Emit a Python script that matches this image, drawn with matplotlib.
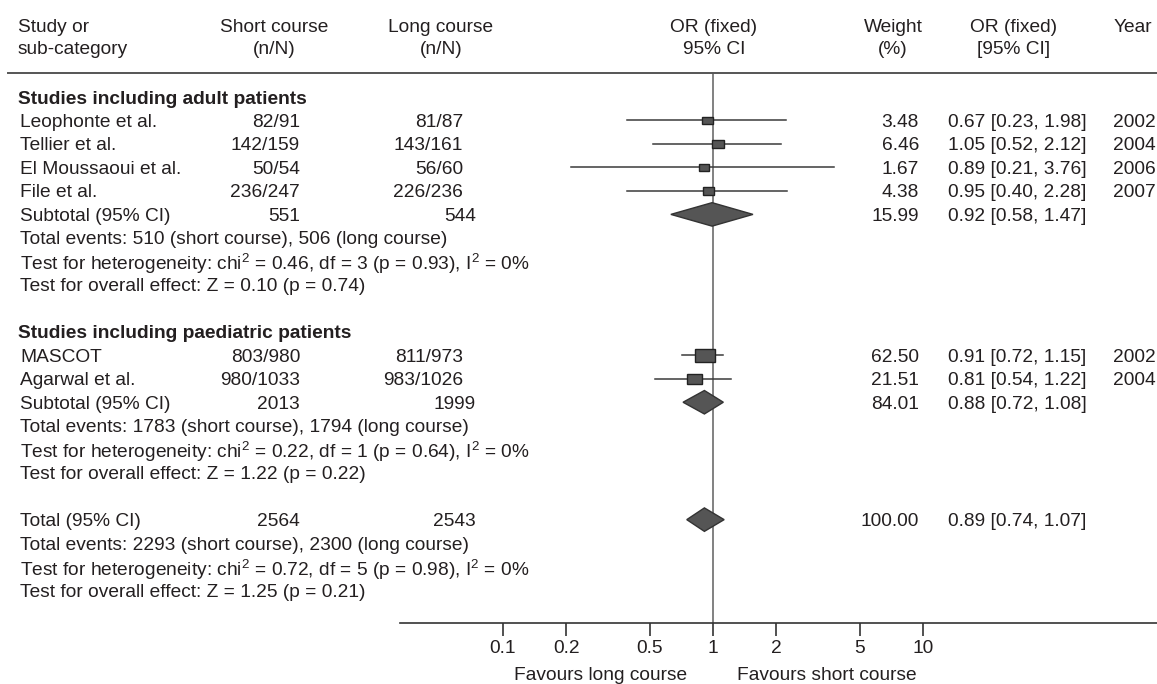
import numpy as np
import matplotlib
matplotlib.use('Agg')
import matplotlib.pyplot as plt
import matplotlib.transforms as mtransforms
from matplotlib.lines import Line2D
from matplotlib.patches import Rectangle, Polygon
from matplotlib.ticker import NullLocator

plt.rcParams['font.family'] = ['Liberation Sans', 'DejaVu Sans']

# individual studies (text as printed, marks as drawn in the picture)
studyNames = ['Leophonte et al.', 'Tellier et al.', 'El Moussaoui et al.', 'File et al.', 'MASCOT', 'Agarwal et al.']
shortCourse = ['82/91', '142/159', '50/54', '236/247', '803/980', '980/1033']
longCourse = ['81/87', '143/161', '56/60', '226/236', '811/973', '983/1026']
studyWeights = [3.48, 6.46, 1.67, 4.38, 62.50, 21.51]
studyCIText = ['0.67 [0.23, 1.98]', '1.05 [0.52, 2.12]', '0.89 [0.21, 3.76]', '0.95 [0.40, 2.28]',
               '0.91 [0.72, 1.15]', '0.81 [0.54, 1.22]']
studyYears = [2002, 2004, 2006, 2007, 2002, 2004]
studyOR = [0.94, 1.06, 0.91, 0.95, 0.92, 0.82]
studyLow = [0.39, 0.52, 0.21, 0.39, 0.71, 0.53]
studyHigh = [2.23, 2.11, 3.77, 2.25, 1.12, 1.22]

# subtotals and total
pooledNames = ['Subtotal (95% CI)', 'Subtotal (95% CI)', 'Total (95% CI)']
pooledShort = [551, 2013, 2564]
pooledLong = [544, 1999, 2543]
pooledWeights = [15.99, 84.01, 100.00]
pooledCIText = ['0.92 [0.58, 1.47]', '0.88 [0.72, 1.08]', '0.89 [0.74, 1.07]']
pooledOR = [0.99, 0.91, 0.91]
pooledLow = [0.63, 0.72, 0.75]
pooledHigh = [1.55, 1.12, 1.13]

eventsText = ['Total events: 510 (short course), 506 (long course)',
              'Total events: 1783 (short course), 1794 (long course)',
              'Total events: 2293 (short course), 2300 (long course)']
heterogeneityText = ['Test for heterogeneity: chi$^2$ = 0.46, df = 3 (p = 0.93), I$^2$ = 0%',
                     'Test for heterogeneity: chi$^2$ = 0.22, df = 1 (p = 0.64), I$^2$ = 0%',
                     'Test for heterogeneity: chi$^2$ = 0.72, df = 5 (p = 0.98), I$^2$ = 0%']
effectText = ['Test for overall effect: Z = 0.10 (p = 0.74)',
              'Test for overall effect: Z = 1.22 (p = 0.22)',
              'Test for overall effect: Z = 1.25 (p = 0.21)']

groupTitles = ['Studies including adult patients', 'Studies including paediatric patients']
groupStudies = [[0, 1, 2, 3], [4, 5]]

tickValues = [0.1, 0.2, 0.5, 1, 2, 5, 10]
tickLabels = ['0.1', '0.2', '0.5', '1', '2', '5', '10']

plt.rcParams['mathtext.fontset'] = 'custom'
plt.rcParams['mathtext.rm'] = 'Liberation Sans'
plt.rcParams['mathtext.default'] = 'regular'


def main():
    figW, figH = 1157, 684
    fig = plt.figure(figsize=(figW / 100, figH / 100), dpi=100)
    textColor = '#231f20'
    fontSize = 13.8

    rowPx = 23.48
    firstRowPx = 97
    axTopPx, axBottomPx, axLeftPx = 73, 623, 400
    onePx, decadePx = 713, 210

    ax = fig.add_axes([axLeftPx / figW, 1 - axBottomPx / figH,
                       1 - axLeftPx / figW, (axBottomPx - axTopPx) / figH])
    ax.set_xscale('log')
    ax.set_xlim(10 ** ((axLeftPx - onePx) / decadePx), 10 ** ((figW - onePx) / decadePx))
    ax.set_ylim((axBottomPx - firstRowPx) / rowPx, (axTopPx - firstRowPx) / rowPx)
    for side in ['top', 'left', 'right']:
        ax.spines[side].set_visible(False)
    ax.spines['bottom'].set_color('#333333')
    ax.spines['bottom'].set_linewidth(1.2)
    ax.set_yticks([])
    ax.set_xticks(tickValues)
    ax.set_xticklabels(tickLabels)
    ax.xaxis.set_minor_locator(NullLocator())
    ax.tick_params(axis='x', length=9, width=1.2, color='#333333', pad=3,
                   labelsize=fontSize, labelcolor=textColor)

    ax.axvline(1, color='#777777', lw=1.3, zorder=1)
    topRule = Line2D([8 / figW, 1], [1, 1], color='#555555', lw=1.4,
                     transform=mtransforms.blended_transform_factory(fig.transFigure, ax.transAxes))
    fig.add_artist(topRule)

    trans = mtransforms.blended_transform_factory(fig.transFigure, ax.transData)

    def putText(xPx, row, s, ha='left', **kw):
        ax.text(xPx / figW, row, s, ha=ha, va='center_baseline', transform=trans, fontsize=fontSize,
                color=textColor, clip_on=False, **kw)

    # header
    headerRows = [(25 - firstRowPx) / rowPx, (47 - firstRowPx) / rowPx]
    putText(18, headerRows[0], 'Study or')
    putText(18, headerRows[1], 'sub-category')
    putText(274, headerRows[0], 'Short course', ha='center')
    putText(274, headerRows[1], '(n/N)', ha='center')
    putText(441, headerRows[0], 'Long course', ha='center')
    putText(441, headerRows[1], '(n/N)', ha='center')
    putText(714, headerRows[0], 'OR (fixed)', ha='center')
    putText(714, headerRows[1], '95% CI', ha='center')
    putText(893, headerRows[0], 'Weight', ha='center')
    putText(893, headerRows[1], '(%)', ha='center')
    putText(1014, headerRows[0], 'OR (fixed)', ha='center')
    putText(1014, headerRows[1], '[95% CI]', ha='center')
    putText(1114, headerRows[0], 'Year')

    def drawPooled(i, row):
        putText(20, row, pooledNames[i])
        putText(300, row, str(pooledShort[i]), ha='right')
        putText(476, row, str(pooledLong[i]), ha='right')
        putText(919, row, '{:.2f}'.format(pooledWeights[i]), ha='right')
        putText(948, row, pooledCIText[i])
        halfH = 0.5
        diamond = Polygon([[pooledLow[i], row], [pooledOR[i], row - halfH],
                           [pooledHigh[i], row], [pooledOR[i], row + halfH]],
                          closed=True, facecolor='#555555', edgecolor='#333333', lw=1, zorder=3)
        ax.add_patch(diamond)
        putText(20, row + 1, eventsText[i])
        putText(20, row + 2, heterogeneityText[i])
        putText(20, row + 3, effectText[i])

    row = 0
    for groupID, studyIDs in enumerate(groupStudies):
        putText(18, row, groupTitles[groupID], fontweight='bold')
        row += 1
        for s in studyIDs:
            putText(20, row, studyNames[s])
            putText(300, row, shortCourse[s], ha='right')
            putText(463, row, longCourse[s], ha='right')
            putText(919, row, '{:.2f}'.format(studyWeights[s]), ha='right')
            putText(948, row, studyCIText[s])
            putText(1113, row, str(studyYears[s]))
            ax.plot([studyLow[s], studyHigh[s]], [row, row], color='#3a3a3a', lw=1.1, zorder=2)
            halfW = (8 + 1.5 * np.sqrt(studyWeights[s])) / 2 / decadePx
            boxH = (6 + 0.9 * np.sqrt(studyWeights[s])) / rowPx
            x0 = studyOR[s] * 10 ** (-halfW)
            x1 = studyOR[s] * 10 ** halfW
            ax.add_patch(Rectangle((x0, row - boxH / 2), x1 - x0, boxH, facecolor='#555555',
                                   edgecolor='#222222', lw=1, zorder=3))
            row += 1
        drawPooled(groupID, row)
        row += 5
    drawPooled(2, row)

    fig.text(687 / figW, 1 - 673 / figH, 'Favours long course', ha='right', va='center_baseline',
             fontsize=fontSize, color=textColor)
    fig.text(737 / figW, 1 - 673 / figH, 'Favours short course', ha='left', va='center_baseline',
             fontsize=fontSize, color=textColor)

    fig.savefig('out.png', dpi=100)


if __name__ == '__main__':
    main()
